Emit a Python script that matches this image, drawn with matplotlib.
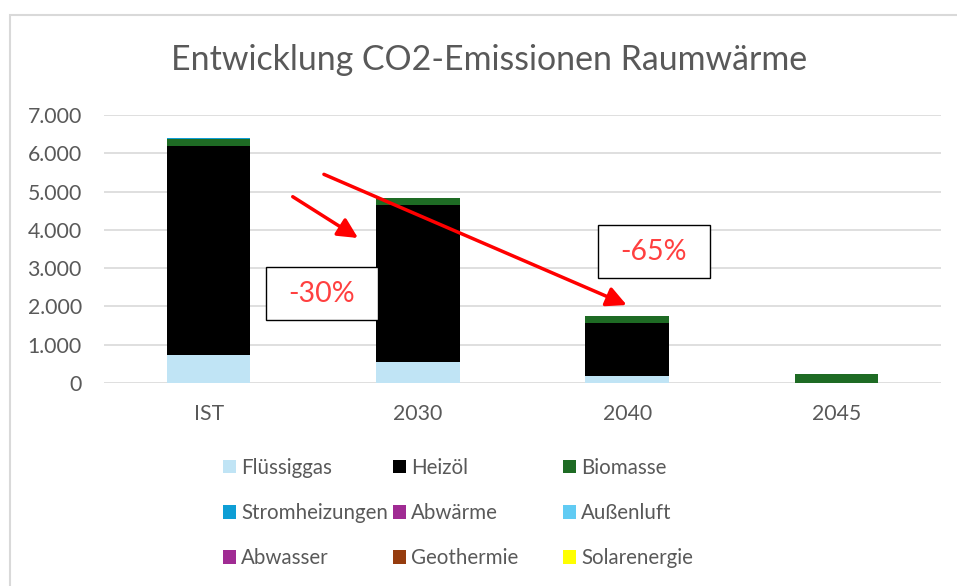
import matplotlib.pyplot as plt
from matplotlib.patches import Rectangle, Patch
import numpy as np

plt.rcParams['font.family'] = ['Lato', 'DejaVu Sans']

# Daten (t CO2)
jahre = ["IST", "2030", "2040", "2045"]
fluessiggas = [730, 555, 180, 0]
heizoel = [5460, 4095, 1380, 0]
biomasse = [175, 190, 200, 225]
stromheizungen = [30, 0, 0, 0]
abwaerme = [0, 0, 0, 0]
aussenluft = [0, 0, 0, 0]
abwasser = [0, 0, 0, 0]
geothermie = [0, 0, 0, 0]
solarenergie = [0, 0, 0, 0]

serien = [
    ("Flüssiggas", fluessiggas, "#C0E4F5"),
    ("Heizöl", heizoel, "#000000"),
    ("Biomasse", biomasse, "#1E6B24"),
    ("Stromheizungen", stromheizungen, "#0E9ED5"),
    ("Abwärme", abwaerme, "#A02B93"),
    ("Außenluft", aussenluft, "#61CBF3"),
    ("Abwasser", abwasser, "#A02B93"),
    ("Geothermie", geothermie, "#963C0E"),
    ("Solarenergie", solarenergie, "#FFFF00"),
]

grau = "#595959"

fig = plt.figure(figsize=(9.57, 5.86), dpi=100)
ax = fig.add_axes([104 / 957, 1 - 383 / 586, 837 / 957, 268 / 586])

x = np.arange(len(jahre))
unten = np.zeros(len(jahre))
for name, werte, farbe in serien:
    ax.bar(x, werte, width=0.4, bottom=unten, color=farbe, zorder=2)
    unten += np.array(werte)

ax.set_xlim(-0.5, 3.5)
ax.set_ylim(0, 7000)
ax.set_yticks(np.arange(0, 7001, 1000))
ax.set_yticklabels(["0" if v == 0 else f"{v // 1000}.000" for v in range(0, 7001, 1000)])
ax.set_xticks(x)
ax.set_xticklabels(jahre)
ax.tick_params(axis="both", length=0, labelsize=15.3, labelcolor=grau)
ax.tick_params(axis="y", pad=16)
ax.tick_params(axis="x", pad=15)
ax.grid(axis="y", color="#D9D9D9", lw=1.2, zorder=0)
for s in ax.spines.values():
    s.set_visible(False)

fig.text(489 / 957, 1 - 60 / 586, "Entwicklung CO2-Emissionen Raumwärme",
         ha="center", va="center", fontsize=24.4, color=grau)

# Pfeile
pfeil = dict(arrowstyle="-|>,head_length=1.2,head_width=0.6", color="#FF0000", lw=2.5,
             shrinkA=0, shrinkB=0)
ax.annotate("", xy=(0.714, 3787), xytext=(0.402, 4866), arrowprops=pfeil,
            annotation_clip=False)
ax.annotate("", xy=(1.998, 2037), xytext=(0.551, 5450), arrowprops=pfeil,
            annotation_clip=False)

# Textboxen
for (x0, y0, x1, y1), txt in [((266, 267, 378, 320), "-30%"),
                               ((598, 225, 710, 278), "-65%")]:
    fig.patches.append(Rectangle((x0 / 957, 1 - y1 / 586), (x1 - x0) / 957,
                                 (y1 - y0) / 586, transform=fig.transFigure,
                                 facecolor="white", edgecolor="black", lw=1.0, zorder=5))
    fig.text((x0 + x1) / 2 / 957, 1 - (y0 + y1) / 2 / 586, txt, ha="center",
             va="center", fontsize=20.5, color="#FF4040", zorder=6)

# Rahmen
fig.patches.append(Rectangle((10 / 957, -0.1), 1.2, 1 - 15 / 586 + 0.1,
                             transform=fig.transFigure, fill=False,
                             edgecolor="#D9D9D9", lw=1.5))

# Legende (drei Spalten)
spalten_x = [223, 393, 563]
for j in range(3):
    eintraege = [serien[j], serien[j + 3], serien[j + 6]]
    handles = [Patch(facecolor=f, label=n) for n, _, f in eintraege]
    fig.legend(handles=handles, loc="upper left",
               bbox_to_anchor=(spalten_x[j] / 957, 1 - 458 / 586),
               frameon=False, fontsize=14.8, labelcolor=grau, borderpad=0,
               borderaxespad=0, handlelength=0.63, handleheight=0.63,
               handletextpad=0.25, labelspacing=1.22)

fig.savefig("out.png", dpi=100)
